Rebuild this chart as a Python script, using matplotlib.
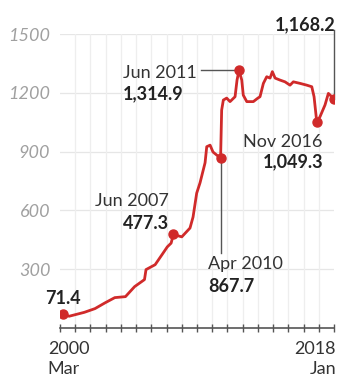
import matplotlib
matplotlib.use("Agg")
import matplotlib.pyplot as plt

# ---- data (decimal years, price) ----
years = [2000.17, 2000.6, 2001.6, 2002.3, 2002.95, 2003.6, 2004.3, 2004.9, 2005.55, 2005.65,
         2006.25, 2006.7, 2007.05, 2007.3, 2007.45, 2008.0, 2008.54, 2008.74, 2008.98, 2009.2,
         2009.53, 2009.64, 2009.86, 2010.05, 2010.3, 2010.55, 2010.62, 2010.73, 2010.95, 2011.17,
         2011.5, 2011.63, 2011.76, 2011.94, 2012.04, 2012.27, 2012.7, 2013.0, 2013.14, 2013.36,
         2013.58, 2013.8, 2013.95, 2014.13, 2014.45, 2014.78, 2015.11, 2015.33, 2015.77, 2016.21,
         2016.54, 2016.69, 2016.87, 2017.08, 2017.41, 2017.63, 2017.85, 2018.0]
values = [71.4, 60, 80, 99, 128, 155, 160, 211, 247, 298,
          323, 374, 414, 433, 477.3, 465, 510, 566, 688, 741,
          843, 925, 933, 898, 882, 867.7, 1112, 1163, 1173, 1155,
          1180, 1265, 1314.9, 1265, 1188, 1155, 1155, 1173, 1180, 1248,
          1282, 1275, 1308, 1275, 1265, 1256, 1239, 1256, 1248, 1239,
          1231, 1180, 1049.3, 1078, 1138, 1197, 1180, 1168.2]

hl_years = [2000.17, 2007.45, 2010.55, 2011.76, 2016.87, 2018.0]
hl_values = [71.4, 477.3, 867.7, 1314.9, 1049.3, 1168.2]

yticks = [300, 600, 900, 1200, 1500]
ytick_labels = ["300", "600", "900", "1200", "1500"]

FONT = "Lato"
plt.rcParams["font.family"] = [FONT, "DejaVu Sans"]

RED = "#d02a2a"
DARK = "#333333"
GRAY = "#a0a0a0"
FS = 13

fig = plt.figure(figsize=(3.43, 3.83), dpi=100)
ax = fig.add_axes([60/343, 55/383, 274/343, 294/383])
ax.set_xlim(2000, 2018)
ax.set_ylim(0, 1500)

# grid
for yv in yticks:
    ax.axhline(yv, color="#e6e6e6", lw=0.9, zorder=0)
for yr in range(2001, 2018):
    ax.axvline(yr, color="#eeeeee", lw=0.9, zorder=0)

ax.plot(years, values, color=RED, lw=2.0, zorder=3, solid_joinstyle="round")
ax.plot(hl_years, hl_values, "o", color=RED, ms=6.5, zorder=4)

for s in ["top", "right", "left"]:
    ax.spines[s].set_visible(False)
ax.spines["bottom"].set_color("#555555")
ax.spines["bottom"].set_linewidth(1.2)
ax.set_xticks(range(2000, 2019))
ax.set_xticklabels([])
ax.tick_params(axis="x", direction="inout", length=6, width=1, color="#555555")
ax.set_yticks(yticks)
ax.set_yticklabels(ytick_labels, fontstyle="italic", color=GRAY, fontsize=FS)
ax.tick_params(axis="y", length=0, pad=7)

def t(x, y, s, ha="left", bold=False):
    ax.text(x, y, s, ha=ha, va="center", fontsize=FS, color=DARK if not bold else "#222222",
            fontweight="bold" if bold else "normal", clip_on=False, zorder=5)

t(1999.01, 148, "71.4", bold=True)
t(2007.16, 647, "Jun 2007", ha="right")
t(2007.16, 535, "477.3", ha="right", bold=True)
t(2004.14, 1299, "Jun 2011")
t(2004.14, 1197, "1,314.9", bold=True)
ax.plot([2009.25, 2011.6], [1314.9, 1314.9], color="#555555", lw=1, zorder=2)
t(2009.72, 326, "Apr 2010")
t(2009.72, 214, "867.7", bold=True)
ax.plot([2010.55, 2010.55], [867.7, 385], color="#555555", lw=1, zorder=2)
t(2017.21, 948, "Nov 2016", ha="right")
t(2017.28, 846, "1,049.3", ha="right", bold=True)
t(2018.07, 1549, "1,168.2", ha="right", bold=True)
ax.plot([2018.0, 2018.0], [1518, 1168.2], color="#555555", lw=1, zorder=2, clip_on=False)

t(1999.2, -107, "2000")
t(1999.2, -209, "Mar")
t(2018.13, -107, "2018", ha="right")
t(2018.13, -209, "Jan", ha="right")

fig.savefig("out.png", dpi=100)
